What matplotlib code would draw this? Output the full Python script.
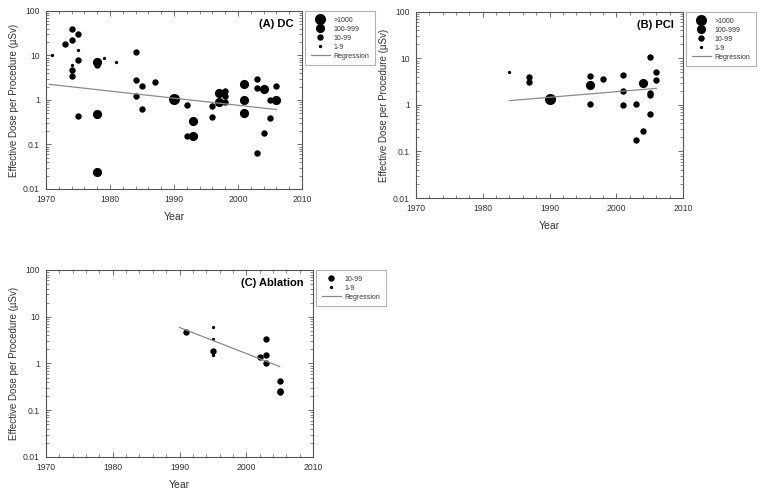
import matplotlib.pyplot as plt
from matplotlib.lines import Line2D
from matplotlib.ticker import MultipleLocator, LogLocator, FixedLocator, FixedFormatter

plt.rcParams['font.family'] = ['Liberation Sans', 'DejaVu Sans']

# Tamaños de categoria (numero de pacientes)
cats = ['>1000', '100-999', '10-99', '1-9']
sizes = {'>1000': 8.0, '100-999': 6.6, '10-99': 4.6, '1-9': 2.4}

# (A) DC
dc_year = [1971, 1973, 1974, 1974, 1974, 1974, 1974, 1975, 1975, 1975, 1975,
           1978, 1978, 1978, 1978, 1979, 1981, 1984, 1984, 1984, 1985, 1985,
           1987, 1990, 1992, 1992, 1993, 1993, 1996, 1996, 1997, 1997, 1998,
           1998, 1998, 2001, 2001, 2001, 2003, 2003, 2003, 2004, 2004, 2005,
           2005, 2006, 2006]
dc_dose = [10.2, 18, 39, 22.8, 6.0, 4.6, 3.4, 30.5, 13, 7.9, 0.43,
           7.0, 6.0, 0.49, 0.024, 8.7, 7.3, 12.1, 2.75, 1.25, 2.05, 0.63,
           2.49, 1.07, 0.76, 0.154, 0.33, 0.156, 0.75, 0.42, 1.46, 0.90, 1.59,
           1.23, 0.92, 2.24, 1.0, 0.50, 3.0, 1.82, 0.065, 1.8, 0.18, 0.98,
           0.40, 2.02, 1.0]
dc_cat = ['1-9', '10-99', '10-99', '10-99', '1-9', '10-99', '10-99', '10-99', '1-9', '10-99', '10-99',
          '100-999', '10-99', '100-999', '100-999', '1-9', '1-9', '10-99', '10-99', '10-99', '10-99', '10-99',
          '10-99', '>1000', '10-99', '10-99', '100-999', '100-999', '10-99', '10-99', '100-999', '100-999', '10-99',
          '10-99', '10-99', '100-999', '100-999', '100-999', '10-99', '10-99', '10-99', '100-999', '10-99', '10-99',
          '10-99', '10-99', '100-999']
dc_reg_year = [1970.5, 2006]
dc_reg_dose = [2.25, 0.61]

# (B) PCI
pci_year = [1984, 1987, 1987, 1990, 1996, 1996, 1996, 1998, 2001, 2001, 2001,
            2003, 2003, 2004, 2004, 2005, 2005, 2005, 2005, 2006, 2006]
pci_dose = [5.18, 4.0, 3.06, 1.37, 4.18, 2.73, 1.03, 3.67, 4.47, 2.03, 1.02,
            1.05, 0.175, 2.96, 0.28, 10.7, 1.78, 1.61, 0.63, 5.18, 3.43]
pci_cat = ['1-9', '10-99', '10-99', '>1000', '10-99', '100-999', '10-99', '10-99', '10-99', '10-99', '10-99',
           '10-99', '10-99', '100-999', '10-99', '10-99', '10-99', '10-99', '10-99', '10-99', '10-99']
pci_reg_year = [1984, 2006]
pci_reg_dose = [1.24, 2.28]

# (C) Ablation
abl_year = [1991, 1995, 1995, 1995, 1995, 2002, 2003, 2003, 2003, 2005, 2005, 2005]
abl_dose = [4.6, 6.0, 3.27, 1.84, 1.52, 1.39, 3.27, 1.53, 1.0, 0.43, 0.255, 0.245]
abl_cat = ['10-99', '1-9', '1-9', '10-99', '1-9', '10-99', '10-99', '10-99', '10-99', '10-99', '10-99', '10-99']
abl_reg_year = [1990, 2005]
abl_reg_dose = [5.9, 0.86]

reg_color = '#8a8a8a'


def panel(ax, x, y, c, rx, ry, titulo, legcats):
    for xi, yi, ci in zip(x, y, c):
        ax.plot(xi, yi, 'o', color='black', ms=sizes[ci], mec='black', mew=0)
    ax.plot(rx, ry, color=reg_color, lw=0.9)
    ax.set_yscale('log')
    ax.set_xlim(1970, 2010)
    ax.set_ylim(0.01, 100)
    ax.xaxis.set_major_locator(MultipleLocator(10))
    ax.xaxis.set_minor_locator(MultipleLocator(2))
    ax.yaxis.set_major_locator(FixedLocator([0.01, 0.1, 1, 10, 100]))
    ax.yaxis.set_major_formatter(FixedFormatter(['0.01', '0.1', '1', '10', '100']))
    ax.yaxis.set_minor_locator(LogLocator(base=10, subs=range(2, 10)))
    ax.tick_params(which='both', direction='in', top=True, right=True,
                   labelsize=6.2, color='#555555', labelcolor='#333333', pad=4.5)
    ax.tick_params(which='major', length=3.5, width=0.6)
    ax.tick_params(which='minor', length=2, width=0.5)
    for s in ax.spines.values():
        s.set_linewidth(0.8)
        s.set_color('#555555')
    ax.set_xlabel('Year', fontsize=7.5, color='#333333', labelpad=5.5)
    ax.set_ylabel('Effective Dose per Procedure (\u00b5Sv)', fontsize=7,
                  color='#333333', labelpad=3)
    ax.text(0.965, 0.955, titulo, transform=ax.transAxes, ha='right', va='top',
            fontsize=8, fontweight='bold')
    handles = [Line2D([], [], ls='', marker='o', color='black', ms=sizes[k], mew=0)
               for k in legcats]
    handles.append(Line2D([], [], color=reg_color, lw=0.9))
    leg = ax.legend(handles, legcats + ['Regression'], loc='upper left',
                    bbox_to_anchor=(1.012, 1.0), fontsize=5, frameon=True,
                    fancybox=False, edgecolor='#a0a0a0', handlelength=2.8,
                    handletextpad=0.5, labelspacing=0.3, borderpad=0.8,
                    borderaxespad=0)
    leg.get_frame().set_linewidth(0.8)
    for t in leg.get_texts():
        t.set_color('#333333')


fig = plt.figure(figsize=(7.64, 4.95), dpi=100)
axA = fig.add_axes([0.0602, 0.6182, 0.3351, 0.3596])
axB = fig.add_axes([0.5445, 0.6000, 0.3495, 0.3758])
axC = fig.add_axes([0.0602, 0.0768, 0.3495, 0.3778])

panel(axA, dc_year, dc_dose, dc_cat, dc_reg_year, dc_reg_dose, '(A) DC', cats)
panel(axB, pci_year, pci_dose, pci_cat, pci_reg_year, pci_reg_dose, '(B) PCI', cats)
panel(axC, abl_year, abl_dose, abl_cat, abl_reg_year, abl_reg_dose, '(C) Ablation',
      ['10-99', '1-9'])

fig.savefig('out.png', dpi=100)
